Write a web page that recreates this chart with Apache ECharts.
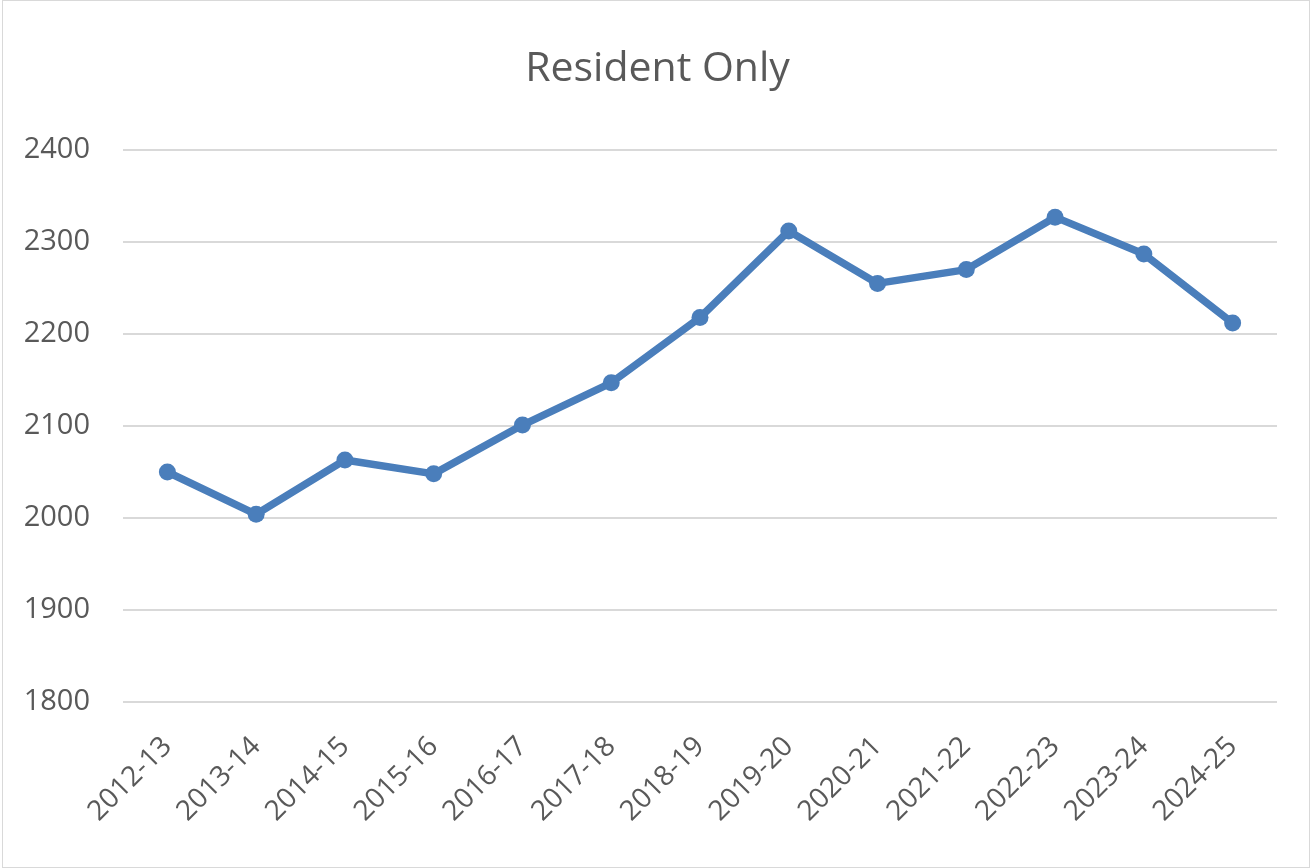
<!DOCTYPE html>
<html lang="en">
<head>
    <meta charset="UTF-8">
    <title>Resident Only</title>
    <style>
        * {
            margin: 0;
            padding: 0;
            box-sizing: border-box;
        }

        html, body {
            width: 1315px;
            height: 868px;
            background: #ffffff;
            overflow: hidden;
            position: relative;
        }

        #chart {
            width: 1315px;
            height: 868px;
        }

        .frame {
            position: absolute;
            left: 2px;
            top: 0;
            width: 1308px;
            height: 868px;
            border: 1px solid #d9d9d9;
            pointer-events: none;
        }
    </style>
    <script src="https://cdn.jsdelivr.net/npm/echarts@6/dist/echarts.min.js"></script>
</head>
<body>
<div id="chart"></div>
<div class="frame"></div>
<script>
    var years = ['2012-13', '2013-14', '2014-15', '2015-16', '2016-17', '2017-18', '2018-19',
        '2019-20', '2020-21', '2021-22', '2022-23', '2023-24', '2024-25']
    var residents = [2050, 2004, 2063, 2048, 2101, 2147, 2218, 2312, 2255, 2270, 2327, 2287, 2212]

    var textColor = '#595959'
    var font = '"Open Sans", "Liberation Sans", sans-serif'

    var myChart = echarts.init(document.getElementById('chart'))
    var option = {
        animation: false,
        title: {
            text: 'Resident Only',
            left: 'center',
            top: 44,
            textStyle: {
                color: textColor,
                fontFamily: font,
                fontSize: 41,
                fontWeight: 'normal'
            }
        },
        grid: {
            left: 123,
            right: 38,
            top: 150,
            bottom: 166
        },
        xAxis: {
            type: 'category',
            data: years,
            boundaryGap: true,
            axisLine: {show: false},
            axisTick: {show: false},
            axisLabel: {
                rotate: 45,
                margin: 40,
                color: textColor,
                fontFamily: font,
                fontSize: 28
            }
        },
        yAxis: {
            type: 'value',
            min: 1800,
            max: 2400,
            interval: 100,
            axisLine: {show: false},
            axisTick: {show: false},
            axisLabel: {
                margin: 33,
                color: textColor,
                fontFamily: font,
                fontSize: 29,
                formatter: function (v) {
                    return String(v)
                }
            },
            splitLine: {
                lineStyle: {color: '#d9d9d9', width: 2}
            }
        },
        series: [{
            type: 'line',
            data: residents,
            symbol: 'circle',
            symbolSize: 17,
            lineStyle: {color: '#4a7ebb', width: 7.5},
            itemStyle: {color: '#4a7ebb'}
        }]
    }
    myChart.setOption(option)
</script>
</body>
</html>
